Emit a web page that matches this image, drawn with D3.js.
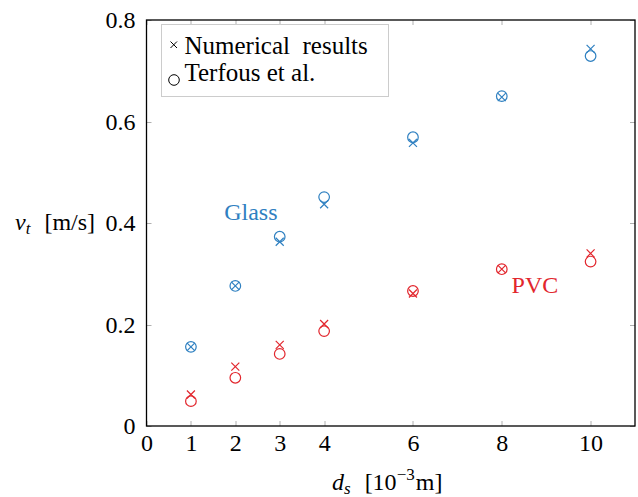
<!DOCTYPE html>
<html>
<head>
<meta charset="utf-8">
<script src="https://cdn.jsdelivr.net/npm/d3@7"></script>
<style>
  body { margin: 0; background: #fff; }
  svg text { font-family: "Liberation Serif", "Times New Roman", serif; }
</style>
</head>
<body>
<svg id="chart" width="638" height="497"></svg>
<script>
// diameters in 10^-3 m
var diameters = [1, 2, 3, 4, 6, 8, 10];
var glassNumerical = [0.156, 0.276, 0.363, 0.437, 0.558, 0.648, 0.743];
var glassTerfous = [0.156, 0.276, 0.373, 0.451, 0.569, 0.650, 0.729];
var pvcNumerical = [0.062, 0.117, 0.160, 0.201, 0.261, 0.309, 0.340];
var pvcTerfous = [0.049, 0.095, 0.142, 0.187, 0.266, 0.309, 0.324];
var xTicks = [0, 1, 2, 3, 4, 6, 8, 10];
var yTicks = [0, 0.2, 0.4, 0.6, 0.8];

var blue = '#2f80c1';
var red = '#e2262d';

var svg = d3.select('#chart');
var padding = {t: 20, r: 3, b: 71, l: 146.5};
var chartWidth = 638 - padding.l - padding.r;
var chartHeight = 497 - padding.t - padding.b;

var chartG = svg.append('g')
    .attr('transform', 'translate(' + [padding.l, padding.t] + ')');

var xScale = d3.scaleLinear().domain([0, 11]).range([0, chartWidth]);
var yScale = d3.scaleLinear().domain([0, 0.8]).range([chartHeight, 0]);

// inward gray ticks on all four sides
var tickLen = 5;
var tickG = chartG.append('g').attr('stroke', '#b0b0b0').attr('stroke-width', 1);
xTicks.forEach(function(t) {
    var x = Math.round(xScale(t)) + 0.5;
    tickG.append('line').attr('x1', x).attr('x2', x).attr('y1', chartHeight).attr('y2', chartHeight - tickLen);
    tickG.append('line').attr('x1', x).attr('x2', x).attr('y1', 0).attr('y2', tickLen);
});
yTicks.forEach(function(t) {
    var y = Math.round(yScale(t)) + 0.5;
    tickG.append('line').attr('x1', 0).attr('x2', tickLen).attr('y1', y).attr('y2', y);
    tickG.append('line').attr('x1', chartWidth).attr('x2', chartWidth - tickLen).attr('y1', y).attr('y2', y);
});

// tick labels
var xAxis = d3.axisBottom(xScale).tickValues(xTicks).tickSize(0).tickPadding(8)
    .tickFormat(d3.format('d'));
var xAxisGroup = chartG.append('g')
    .attr('transform', 'translate(0,' + chartHeight + ')')
    .call(xAxis);
xAxisGroup.select('.domain').remove();
xAxisGroup.selectAll('text')
    .style('font-size', '24px')
    .style('font-family', '"Liberation Serif", serif')
    .attr('fill', '#000');

var yAxis = d3.axisLeft(yScale).tickValues(yTicks).tickSize(0).tickPadding(11)
    .tickFormat(function(d) { return d === 0 ? '0' : d3.format('.1f')(d); });
var yAxisGroup = chartG.append('g').call(yAxis);
yAxisGroup.select('.domain').remove();
yAxisGroup.selectAll('text')
    .style('font-size', '24px')
    .style('font-family', '"Liberation Serif", serif')
    .attr('fill', '#000');

// frame
chartG.append('rect')
    .attr('x', 0).attr('y', 0)
    .attr('width', chartWidth).attr('height', chartHeight)
    .attr('fill', 'none').attr('stroke', '#000').attr('stroke-width', 1.3);

// markers
function drawCrosses(values, color) {
    var size = 4;
    chartG.append('g').selectAll('path')
        .data(diameters.map(function(d, i) { return [d, values[i]]; }))
        .enter().append('path')
        .attr('d', function(d) {
            var x = xScale(d[0]), y = yScale(d[1]);
            return 'M' + (x - size) + ',' + (y - size) + 'L' + (x + size) + ',' + (y + size) +
                'M' + (x - size) + ',' + (y + size) + 'L' + (x + size) + ',' + (y - size);
        })
        .attr('stroke', color).attr('stroke-width', 1.2).attr('fill', 'none');
}
function drawCircles(values, color) {
    chartG.append('g').selectAll('circle')
        .data(diameters.map(function(d, i) { return [d, values[i]]; }))
        .enter().append('circle')
        .attr('cx', function(d) { return xScale(d[0]); })
        .attr('cy', function(d) { return yScale(d[1]); })
        .attr('r', 5.3)
        .attr('stroke', color).attr('stroke-width', 1.2).attr('fill', 'none');
}
drawCrosses(glassNumerical, blue);
drawCircles(glassTerfous, blue);
drawCrosses(pvcNumerical, red);
drawCircles(pvcTerfous, red);

// series labels
chartG.append('text')
    .attr('x', xScale(1.75)).attr('y', yScale(0.405))
    .attr('fill', blue).style('font-size', '24px')
    .text('Glass');
chartG.append('text')
    .attr('x', xScale(8.22)).attr('y', yScale(0.262))
    .attr('fill', red).style('font-size', '24px')
    .text('PVC');

// legend
var legend = svg.append('g').attr('transform', 'translate(161.5,24.5)');
legend.append('rect')
    .attr('width', 227).attr('height', 72)
    .attr('fill', '#fff').attr('stroke', '#cccccc').attr('stroke-width', 1);
legend.append('path')
    .attr('d', 'M9,17L15.5,23.5M9,23.5L15.5,17')
    .attr('stroke', '#000').attr('stroke-width', 1);
legend.append('text')
    .attr('x', 23).attr('y', 29)
    .style('font-size', '25px').style('white-space', 'pre')
    .text('Numerical  results');
legend.append('circle')
    .attr('cx', 12.5).attr('cy', 55.5).attr('r', 5.3)
    .attr('fill', 'none').attr('stroke', '#000').attr('stroke-width', 1);
legend.append('text')
    .attr('x', 23).attr('y', 56)
    .style('font-size', '25px')
    .text('Terfous et al.');

// axis titles
var yTitle = svg.append('text')
    .attr('x', 15).attr('y', 230)
    .style('font-size', '24px');
yTitle.append('tspan').style('font-style', 'italic').text('v');
yTitle.append('tspan').style('font-style', 'italic').style('font-size', '17px').attr('dy', 4).text('t');
yTitle.append('tspan').attr('dy', -4).attr('dx', 14).text('[m/s]');

var xTitle = svg.append('text')
    .attr('x', 332).attr('y', 490)
    .style('font-size', '24px');
xTitle.append('tspan').style('font-style', 'italic').text('d');
xTitle.append('tspan').style('font-style', 'italic').style('font-size', '17px').attr('dy', 4).text('s');
xTitle.append('tspan').attr('dy', -4).attr('dx', 14).text('[10');
xTitle.append('tspan').style('font-size', '17px').attr('dy', -10).text('\u22123');
xTitle.append('tspan').attr('dy', 10).attr('dx', 1).text('m]');
</script>
</body>
</html>
